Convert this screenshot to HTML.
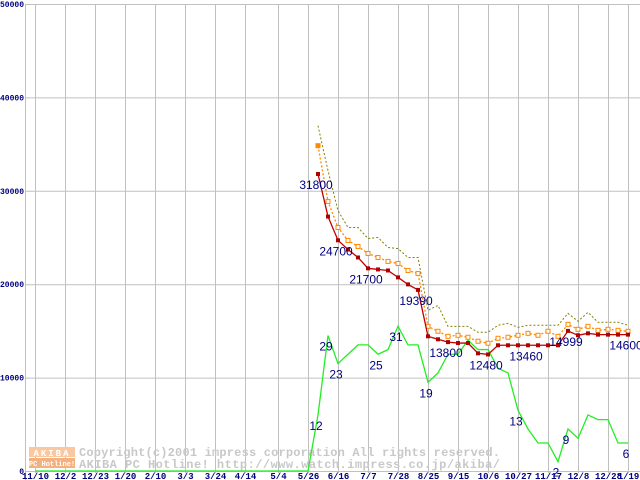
<!DOCTYPE html>
<html><head><meta charset="utf-8"><style>
html,body{margin:0;padding:0;background:#fff;}
svg{display:block;}
</style></head><body>
<svg id="chart" width="640" height="480" xmlns="http://www.w3.org/2000/svg" font-family="Liberation Mono, monospace">
<g id="grid"></g>
<g id="wm">
  <rect x="29" y="447" width="46" height="10" fill="#f9c8a0"/>
  <rect x="29" y="458" width="46" height="10" fill="#f5b080"/>
  <text x="52" y="456" font-size="9" font-weight="bold" fill="#fff" text-anchor="middle" letter-spacing="2">AKIBA</text>
  <text x="52" y="466" font-size="7" font-weight="bold" fill="#fff" text-anchor="middle">PC Hotline!</text>
  <text x="79" y="456" font-size="12" font-weight="bold" fill="#c8c8c8" textLength="421" lengthAdjust="spacing">Copyright(c)2001 impress corporation All rights reserved.</text>
  <text x="79" y="468" font-size="12" font-weight="bold" fill="#c8c8c8" textLength="421" lengthAdjust="spacing">AKIBA PC Hotline!  http://www.watch.impress.co.jp/akiba/</text>
</g>
<g id="series"></g>
<g id="labels"></g>
</svg>
<script>
const yTicks = [0, 10000, 20000, 30000, 40000, 50000];
const xTickLabels = ["11/10","12/2","12/23","1/20","2/10","3/3","3/24","4/14","5/4","5/26","6/16","7/7","7/28","8/25","9/15","10/6","10/27","11/17","12/8","12/28","1/19"];
const xTickWeeks = [-28.3,-25.3,-22.3,-19.3,-16.3,-13.3,-10.3,-7.3,-4,-1,2,5,8,11,14,17,20,23,26,29,31];
const minPrice = [31800,27240,24700,23720,22860,21700,21580,21470,20730,19980,19390,14420,14100,13800,13700,13700,12600,12480,13460,13460,13460,13460,13460,13460,13460,14999,14530,14740,14600,14600,14600,14600];
const avgPrice = [34830,28850,26070,24680,24040,23290,22860,22440,22220,21470,21150,15490,14960,14420,14530,14320,13890,13680,14210,14320,14530,14740,14530,14960,14420,15700,15170,15490,15060,15170,15060,14960];
const maxPrice = [36970,32160,27880,26070,26070,24890,25000,23930,23820,22860,22860,17200,17730,15490,15490,15490,14850,14850,15600,15810,15380,15600,15600,15600,15600,16880,16030,16990,15920,15920,15920,15600];
const shopCount = [12,29,23,25,27,27,25,26,31,27,27,19,21,25,25,28,26,26,22,21,13,9,6,6,2,9,7,12,11,11,6,6];
const priceLabelIdx = [0,2,5,10,13,17,21,25,31];
const priceLabelText = ["31800","24700","21700","19390","13800","12480","13460","14999","14600"];
const countLabelIdx = [0,1,2,6,8,11,20,24,25,31];
const NS = "http://www.w3.org/2000/svg";
function x(w){ return 318 + w*10; }
function y(v){ return 471 - v*467/50000; }
function el(tag, attrs, parent){ const e=document.createElementNS(NS,tag); for(const k in attrs) e.setAttribute(k, attrs[k]); parent.appendChild(e); return e; }
const grid=document.getElementById('grid'), ser=document.getElementById('series'), lab=document.getElementById('labels');
yTicks.forEach(v=>{
  const l=el('line',{x1:25,x2:640,y1:y(v)+0.5,y2:y(v)+0.5,stroke:'#c0c0c0','stroke-width':1},grid);
  
  
  const t=el('text',{x:24,y:y(v)+3,'font-size':8,'font-weight':'bold',fill:'#000080','text-anchor':'end'},grid);
  t.textContent=String(v);
  
  
});
const ax=el('line',{x1:25.5,x2:25.5,y1:4,y2:480,stroke:'#c0c0c0'},grid);


xTickLabels.forEach((s,i)=>{
  const xx=Math.round(x(xTickWeeks[i]))+0.5;
  const l=el('line',{x1:xx,x2:xx,y1:4,y2:473,stroke:'#c0c0c0'},grid);
  
  
  const t=el('text',{x:xx,y:479,'font-size':9,'font-weight':'bold',fill:'#000080','text-anchor':'middle'},grid);
  t.textContent=s;
  
  
});
let gpts=[[x(-28.3),y(0)],[x(-1),y(0)]];
shopCount.forEach((c,i)=>gpts.push([x(i),y(c*500)]));
const g=el('polyline',{points:gpts.map(p=>p.join(',')).join(' '),fill:'none',stroke:'#22ee22','stroke-width':1.3},ser);


const mx=el('polyline',{points:maxPrice.map((v,i)=>x(i)+','+y(v)).join(' '),fill:'none',stroke:'#808000','stroke-width':1,'stroke-dasharray':'2,2'},ser);


const av=el('polyline',{points:avgPrice.map((v,i)=>x(i)+','+y(v)).join(' '),fill:'none',stroke:'#ff8800','stroke-width':1.3,'stroke-dasharray':'2,2'},ser);


avgPrice.forEach((v,i)=>{
  const r=el('rect',{x:x(i)-2,y:y(v)-2,width:4,height:4,fill:i===0?'#ff8800':'#fff',stroke:'#ff8800','stroke-width':1},ser);
  
  
});
const mn=el('polyline',{points:minPrice.map((v,i)=>x(i)+','+y(v)).join(' '),fill:'none',stroke:'#c00000','stroke-width':1.3},ser);


minPrice.forEach((v,i)=>{
  const r=el('rect',{x:x(i)-2,y:y(v)-2,width:4,height:4,fill:'#b00000'},ser);
  
  
});
priceLabelIdx.forEach((idx,k)=>{
  const t=el('text',{x:x(idx)-2,y:y(minPrice[idx])+15,'font-size':12,fill:'#000080','text-anchor':'middle','font-family':'Liberation Sans, sans-serif'},lab);
  t.textContent=priceLabelText[k];
  
  
});
countLabelIdx.forEach(idx=>{
  const t=el('text',{x:x(idx)-2,y:y(shopCount[idx]*500)+15,'font-size':12,fill:'#000080','text-anchor':'middle','font-family':'Liberation Sans, sans-serif'},lab);
  t.textContent=String(shopCount[idx]);
  
  
});
</script>
</body></html>
